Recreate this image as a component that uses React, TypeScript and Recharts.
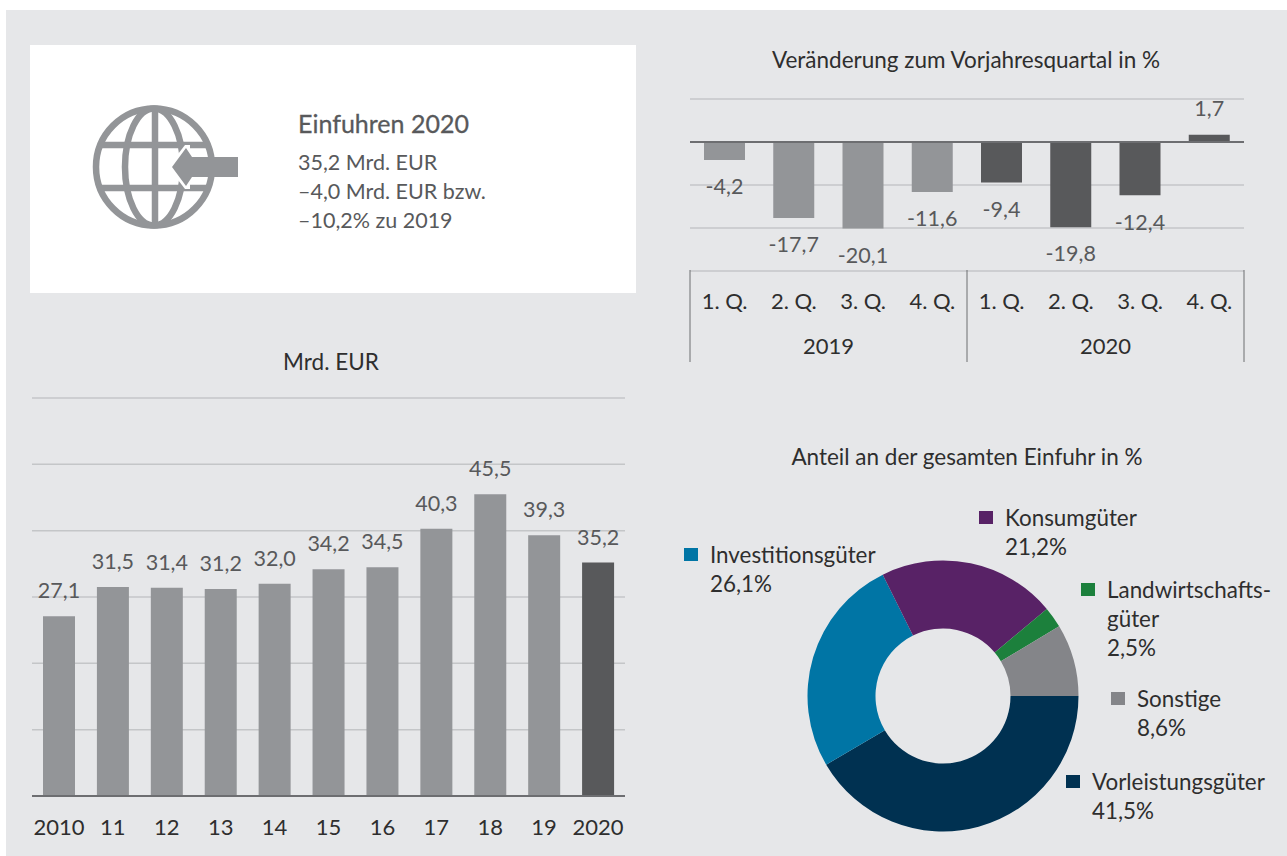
import {
  Bar,
  BarChart,
  CartesianGrid,
  Cell,
  LabelList,
  Pie,
  PieChart,
  ReferenceLine,
  XAxis,
  YAxis,
} from "recharts";

const FONT = "Lato, sans-serif";
const GREY_BAR = "#939598";
const DARK_BAR = "#58595b";
const GRID = "#c4c6c8";
const AXIS = "#6d6e71";
const INK = "#2e2e2e";

// Mrd. EUR
const years = ["2010", "11", "12", "13", "14", "15", "16", "17", "18", "19", "2020"];
const imports = [27.1, 31.5, 31.4, 31.2, 32.0, 34.2, 34.5, 40.3, 45.5, 39.3, 35.2];
const importTicks = [0, 10, 20, 30, 40, 50, 60];

// Veränderung zum Vorjahresquartal
const quarters = ["1. Q.", "2. Q.", "3. Q.", "4. Q.", "1. Q.", "2. Q.", "3. Q.", "4. Q."];
const quarterYears = ["2019", "2019", "2019", "2019", "2020", "2020", "2020", "2020"];
const changes = [-4.2, -17.7, -20.1, -11.6, -9.4, -19.8, -12.4, 1.7];
const changeTicks = [-30, -20, -10, 0, 10];

// Anteil an der gesamten Einfuhr
const shareNames = ["Vorleistungsgüter", "Investitionsgüter", "Konsumgüter", "Landwirtschaftsgüter", "Sonstige"];
const shareValues = [41.5, 26.1, 21.2, 2.5, 8.6];
const shareColors = ["#003151", "#0075a5", "#582266", "#1c803c", "#848589"];

const infoLines = ["35,2 Mrd. EUR", "–4,0 Mrd. EUR bzw.", "–10,2% zu 2019"];

const importData = years.map((year, i) => ({ year, value: imports[i] }));
const changeData = quarters.map((quarter, i) => ({
  id: i,
  quarter,
  year: quarterYears[i],
  value: changes[i],
}));
const shareData = shareNames.map((name, i) => ({ name, value: shareValues[i] }));

const comma = (v: number) => v.toFixed(1).replace(".", ",");

const BAND = 69.25;

// year row of the table under the quarter chart, with its dividers
function YearTick({ x, y, index }: any) {
  const left = x - BAND / 2;
  return (
    <g>
      {(index === 0 || index === 4) && (
        <>
          <line x1={left} x2={left} y1={y - 57} y2={y + 35} stroke={AXIS} />
          <text x={left + BAND * 2} y={y + 27} textAnchor="middle" fontSize={22} fontFamily={FONT} fill={INK}>
            {quarterYears[index]}
          </text>
        </>
      )}
      {index === 7 && <line x1={x + BAND / 2} x2={x + BAND / 2} y1={y - 57} y2={y + 35} stroke={AXIS} />}
    </g>
  );
}

function Heading({ x, y, children }: any) {
  return (
    <div
      style={{
        position: "absolute",
        left: x - 250,
        top: y - 15,
        width: 500,
        lineHeight: "30px",
        textAlign: "center",
        fontSize: 22.5,
        color: INK,
      }}
    >
      {children}
    </div>
  );
}

function ShareLabel({ x, y, textX, color, lines }: any) {
  return (
    <>
      <div style={{ position: "absolute", left: x, top: y, width: 14, height: 13, background: color }} />
      <div
        style={{
          position: "absolute",
          left: textX,
          top: y - 7,
          lineHeight: "28.8px",
          fontSize: 22.4,
          color: INK,
          whiteSpace: "pre",
        }}
      >
        {lines.join("\n")}
      </div>
    </>
  );
}

function InfoBox() {
  return (
    <div style={{ position: "absolute", left: 30, top: 45, width: 606, height: 248, background: "#fff" }}>
      <svg width={606} height={248} style={{ position: "absolute", left: 0, top: 0 }}>
        <g fill="none" stroke={GREY_BAR} strokeWidth={6.5}>
          <ellipse cx={124} cy={122} rx={58} ry={58.5} />
          <ellipse cx={124} cy={122} rx={29} ry={58.5} />
          <line x1={125} x2={125} y1={64} y2={180} />
          <line x1={72} x2={176} y1={100} y2={100} />
          <line x1={72} x2={176} y1={143} y2={143} />
        </g>
        <path d="M138 122 L155 100 L160 100 L160 144 L155 144 Z" fill="#fff" />
        <path d="M142 122 L156 103 L162 112 L208 112 L208 132 L162 132 L156 141 Z" fill={GREY_BAR} />
      </svg>
      <div
        style={{
          position: "absolute",
          left: 268,
          top: 63,
          fontSize: 25,
          lineHeight: "30px",
          color: "#58595b",
          WebkitTextStroke: "0.3px #58595b",
        }}
      >
        Einfuhren 2020
      </div>
      {infoLines.map((line, i) => (
        <div
          key={line}
          style={{ position: "absolute", left: 268, top: 102 + i * 29, fontSize: 21.5, lineHeight: "30px", color: "#58595b" }}
        >
          {line}
        </div>
      ))}
    </div>
  );
}

export default function App() {
  return (
    <div style={{ position: "absolute", left: 0, top: 0, width: 1287, height: 856, background: "#fff", overflow: "hidden", fontFamily: FONT }}>
      <div style={{ position: "absolute", left: 6, top: 10, width: 1281, height: 846, background: "#e6e7e9" }} />

      <InfoBox />

      <Heading x={966} y={60}>Veränderung zum Vorjahresquartal in %</Heading>
      <div style={{ position: "absolute", left: 680, top: 89 }}>
        <BarChart
          width={574}
          height={273}
          data={changeData}
          barCategoryGap="20%"
          margin={{ top: 10, right: 10, bottom: 0, left: 10 }}
        >
          <CartesianGrid horizontal vertical={false} stroke={GRID} strokeWidth={1.5} />
          <YAxis hide domain={[-30, 10]} ticks={changeTicks} />
          <XAxis
            dataKey="id"
            interval={0}
            height={48}
            axisLine={false}
            tickLine={false}
            tick={{ fontSize: 22, fill: INK, fontFamily: FONT }}
            tickFormatter={(_: any, i: number) => quarters[i]}
            tickMargin={16}
          />
          <XAxis
            xAxisId="years"
            dataKey="id"
            interval={0}
            height={43}
            axisLine={false}
            tickLine={false}
            tick={<YearTick />}
          />
          <ReferenceLine y={0} stroke={AXIS} strokeWidth={2} />
          <Bar dataKey="value" barSize={41} isAnimationActive={false}>
            {changeData.map((d) => (
              <Cell key={d.id} fill={d.year === "2019" ? GREY_BAR : DARK_BAR} />
            ))}
            <LabelList
              dataKey="value"
              position="top"
              offset={19}
              formatter={(v: number) => comma(v)}
              style={{ fontSize: 21.5, fill: DARK_BAR, fontFamily: FONT }}
            />
          </Bar>
        </BarChart>
      </div>

      <Heading x={331} y={362}>Mrd. EUR</Heading>
      <div style={{ position: "absolute", left: 22, top: 388 }}>
        <BarChart
          width={613}
          height={468}
          data={importData}
          margin={{ top: 10, right: 10, bottom: 0, left: 10 }}
        >
          <CartesianGrid horizontal vertical={false} stroke={GRID} strokeWidth={1.5} />
          <YAxis hide domain={[0, 60]} ticks={importTicks} />
          <XAxis
            dataKey="year"
            interval={0}
            height={60}
            axisLine={{ stroke: AXIS, strokeWidth: 2 }}
            tickLine={false}
            tick={{ fontSize: 22, fill: INK, fontFamily: FONT }}
            tickMargin={17}
          />
          <Bar dataKey="value" barSize={32} isAnimationActive={false}>
            {importData.map((d) => (
              <Cell key={d.year} fill={d.year === "2020" ? DARK_BAR : GREY_BAR} />
            ))}
            <LabelList
              dataKey="value"
              position="top"
              offset={18}
              formatter={(v: number) => comma(v)}
              style={{ fontSize: 21.5, fill: DARK_BAR, fontFamily: FONT }}
            />
          </Bar>
        </BarChart>
      </div>

      <Heading x={967} y={457}>Anteil an der gesamten Einfuhr in %</Heading>
      <div style={{ position: "absolute", left: 793, top: 546 }}>
        <PieChart width={300} height={300} margin={{ top: 0, right: 0, bottom: 0, left: 0 }}>
          <Pie
            data={shareData}
            dataKey="value"
            nameKey="name"
            cx={150}
            cy={150}
            innerRadius={67.5}
            outerRadius={135.5}
            startAngle={0}
            endAngle={-360}
            stroke="none"
            isAnimationActive={false}
          >
            {shareData.map((d, i) => (
              <Cell key={d.name} fill={shareColors[i]} />
            ))}
          </Pie>
        </PieChart>
      </div>

      <ShareLabel x={979} y={511} textX={1005} color={shareColors[2]} lines={["Konsumgüter", "21,2%"]} />
      <ShareLabel x={684} y={548} textX={710} color={shareColors[1]} lines={["Investitionsgüter", "26,1%"]} />
      <ShareLabel x={1081} y={583} textX={1107} color={shareColors[3]} lines={["Landwirtschafts-", "güter", "2,5%"]} />
      <ShareLabel x={1111} y={692} textX={1137} color={shareColors[4]} lines={["Sonstige", "8,6%"]} />
      <ShareLabel x={1066} y={775} textX={1092} color={shareColors[0]} lines={["Vorleistungsgüter", "41,5%"]} />
    </div>
  );
}
